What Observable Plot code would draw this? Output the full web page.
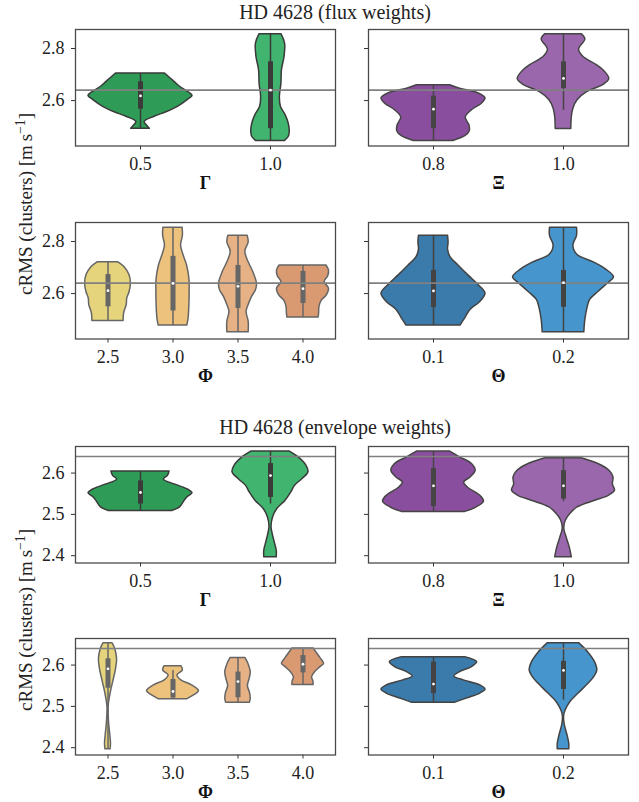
<!DOCTYPE html>
<html><head><meta charset="utf-8">
<script src="https://cdn.jsdelivr.net/npm/d3@7"></script>
<script src="https://cdn.jsdelivr.net/npm/@observablehq/plot@0.6"></script>
<style>
body{margin:0;background:#fff;}
#fig{position:relative;width:639px;height:802px;font-family:"Liberation Serif",serif;color:#222;overflow:hidden;}
.abs{position:absolute;white-space:nowrap;}
.abs svg{overflow:visible;}
</style></head><body><div id="fig"></div>
<script>
const FONT = '"Liberation Serif", serif';
const refLine = 2.64;

// ---------- categories ----------
const gammaCats = ["0.5", "1.0"];
const xiCats = ["0.8", "1.0"];
const phiCats = ["2.5", "3.0", "3.5", "4.0"];
const thetaCats = ["0.1", "0.2"];

// ---------- colours ----------
const gammaColors = ["#2e9c57", "#41b56f"];
const xiColors = ["#8a4e9e", "#9a66ac"];
const phiColors = ["#e5d47c", "#ecc27d", "#e6b184", "#d99a72"];
const thetaColors = ["#3a7bab", "#4696cd"];

// ---------- y ticks ----------
const fluxTicks = [2.6, 2.8];
const envTicks = [2.4, 2.5, 2.6];
const fluxDomain = [2.4255, 2.873];
const envDomain = [2.3823, 2.6643];

// ---------- violin profiles: [value, relative half-width] ----------
// flux weights
const fluxGamma05 = [[2.704,0.47],[2.685,0.58],[2.665,0.69],[2.653,0.76],[2.627,0.96],[2.618,1.0],[2.601,0.90],[2.576,0.72],[2.556,0.51],[2.537,0.26],[2.518,0.08],[2.505,0.12],[2.492,0.18]];
const fluxGamma10 = [[2.855,0.21],[2.819,0.28],[2.768,0.27],[2.717,0.22],[2.665,0.21],[2.614,0.18],[2.576,0.20],[2.544,0.29],[2.512,0.35],[2.479,0.37],[2.460,0.35],[2.445,0.28]];
const fluxXi08 = [[2.659,0.32],[2.646,0.51],[2.627,0.87],[2.608,1.0],[2.588,0.93],[2.563,0.74],[2.535,0.62],[2.505,0.69],[2.483,0.70],[2.463,0.61],[2.445,0.38]];
const fluxXi10 = [[2.855,0.35],[2.835,0.42],[2.796,0.30],[2.768,0.38],[2.736,0.64],[2.710,0.80],[2.682,0.88],[2.659,0.76],[2.633,0.46],[2.601,0.27],[2.569,0.19],[2.537,0.16],[2.491,0.15]];
const fluxPhi25 = [[2.720,0.40],[2.701,0.64],[2.670,0.83],[2.638,0.88],[2.606,0.83],[2.581,0.74],[2.556,0.72],[2.524,0.62],[2.495,0.60]];
const fluxPhi30 = [[2.853,0.37],[2.822,0.38],[2.784,0.31],[2.746,0.41],[2.708,0.54],[2.657,0.63],[2.606,0.64],[2.556,0.63],[2.505,0.60],[2.477,0.55]];
const fluxPhi35 = [[2.822,0.37],[2.796,0.41],[2.761,0.28],[2.720,0.41],[2.682,0.59],[2.638,0.73],[2.613,0.69],[2.587,0.54],[2.556,0.41],[2.530,0.33],[2.492,0.41],[2.451,0.41]];
const fluxPhi40 = [[2.708,0.90],[2.689,1.0],[2.667,0.97],[2.644,0.83],[2.619,1.0],[2.594,0.92],[2.571,0.71],[2.546,0.63],[2.524,0.62],[2.508,0.60]];
const fluxTheta01 = [[2.822,0.28],[2.796,0.29],[2.768,0.28],[2.739,0.33],[2.708,0.48],[2.670,0.67],[2.632,0.87],[2.600,1.0],[2.568,0.90],[2.537,0.71],[2.505,0.61],[2.477,0.52]];
const fluxTheta02 = [[2.853,0.26],[2.822,0.26],[2.784,0.19],[2.748,0.27],[2.720,0.58],[2.692,0.82],[2.663,0.97],[2.638,0.85],[2.606,0.67],[2.575,0.51],[2.543,0.46],[2.499,0.42],[2.451,0.40]];
// envelope weights
const envGamma05 = [[2.604,0.56],[2.594,0.53],[2.584,0.45],[2.572,0.67],[2.559,0.93],[2.551,1.0],[2.541,0.90],[2.529,0.83],[2.517,0.76],[2.508,0.61]];
const envGamma10 = [[2.652,0.37],[2.638,0.54],[2.618,0.69],[2.602,0.73],[2.585,0.61],[2.569,0.47],[2.553,0.40],[2.533,0.29],[2.513,0.13],[2.493,0.05],[2.469,0.02],[2.448,0.05],[2.428,0.09],[2.412,0.12],[2.396,0.12]];
const envXi08 = [[2.652,0.32],[2.638,0.51],[2.622,0.74],[2.606,0.81],[2.590,0.72],[2.577,0.59],[2.564,0.67],[2.545,0.90],[2.531,0.97],[2.517,0.83],[2.506,0.61]];
const envXi10 = [[2.636,0.35],[2.622,0.67],[2.606,0.88],[2.590,0.96],[2.572,0.95],[2.557,0.99],[2.545,0.87],[2.533,0.61],[2.517,0.27],[2.501,0.13],[2.485,0.045],[2.465,0.015],[2.444,0.06],[2.420,0.12],[2.396,0.16]];
const envPhi25 = [[2.653,0.17],[2.640,0.27],[2.615,0.35],[2.591,0.31],[2.567,0.23],[2.543,0.14],[2.519,0.065],[2.498,0.02],[2.478,0.026],[2.454,0.05],[2.430,0.09],[2.410,0.115],[2.396,0.10]];
const envPhi30 = [[2.597,0.33],[2.587,0.38],[2.575,0.17],[2.563,0.32],[2.551,0.73],[2.537,1.0],[2.527,0.82],[2.517,0.54]];
const envPhi35 = [[2.617,0.29],[2.603,0.40],[2.583,0.49],[2.567,0.45],[2.549,0.38],[2.533,0.46],[2.519,0.49],[2.509,0.46]];
const envPhi40 = [[2.640,0.41],[2.623,0.60],[2.611,0.74],[2.603,0.81],[2.595,0.67],[2.583,0.47],[2.571,0.35],[2.560,0.40],[2.552,0.41]];
const envTheta01 = [[2.619,0.61],[2.607,0.84],[2.595,0.74],[2.583,0.51],[2.572,0.40],[2.563,0.58],[2.551,0.90],[2.541,1.0],[2.531,0.90],[2.519,0.64],[2.509,0.42]];
const envTheta02 = [[2.653,0.30],[2.630,0.48],[2.606,0.61],[2.587,0.65],[2.569,0.58],[2.551,0.45],[2.531,0.29],[2.510,0.13],[2.490,0.04],[2.474,0.01],[2.454,0.026],[2.430,0.077],[2.410,0.11],[2.396,0.11]];

// ---------- inner boxes: [whiskerLow, q1, median, q3, whiskerHigh] ----------
const fluxGammaBoxes = [[2.492,2.567,2.618,2.672,2.704],[2.445,2.492,2.640,2.749,2.855]];
const fluxXiBoxes = [[2.445,2.492,2.567,2.617,2.659],[2.563,2.646,2.685,2.749,2.855]];
const fluxPhiBoxes = [[2.495,2.549,2.611,2.673,2.720],[2.477,2.533,2.639,2.743,2.853],[2.451,2.543,2.628,2.708,2.822],[2.508,2.562,2.619,2.685,2.708]];
const fluxThetaBoxes = [[2.477,2.546,2.610,2.689,2.822],[2.451,2.547,2.642,2.689,2.853]];
const envGammaBoxes = [[2.508,2.525,2.553,2.581,2.604],[2.525,2.541,2.594,2.623,2.652]];
const envXiBoxes = [[2.506,2.519,2.569,2.611,2.652],[2.531,2.537,2.569,2.606,2.636]];
const envPhiBoxes = [[2.396,2.544,2.591,2.615,2.653],[2.517,2.520,2.536,2.565,2.587],[2.509,2.521,2.560,2.583,2.617],[2.552,2.581,2.602,2.623,2.640]];
const envThetaBoxes = [[2.509,2.531,2.554,2.607,2.619],[2.515,2.541,2.587,2.609,2.653]];

const titles = ["HD 4628 (flux weights)", "HD 4628 (envelope weights)"];
const yLabelHTML = 'cRMS (clusters) [m&#8201;s<sup style="font-size:0.72em;vertical-align:0.5em;line-height:0">\u22121</sup>]';

// ---------- layout ----------
const fig = document.getElementById("fig");
const FRAME_H = 116.5, MT = 10, MB = 55;
const rowsTop = [29.3, 221.7, 445.7, 637.7];

const panels = [
  {row:0, side:"L", cats:gammaCats, colors:gammaColors, edge:"#3a3a3a", profiles:[fluxGamma05, fluxGamma10], boxes:fluxGammaBoxes, label:"\u0393", ticks:fluxTicks, domain:fluxDomain},
  {row:0, side:"R", cats:xiCats, colors:xiColors, edge:"#454545", profiles:[fluxXi08, fluxXi10], boxes:fluxXiBoxes, label:"\u039E", ticks:fluxTicks, domain:fluxDomain},
  {row:1, side:"L", cats:phiCats, colors:phiColors, edge:"#666666", profiles:[fluxPhi25, fluxPhi30, fluxPhi35, fluxPhi40], boxes:fluxPhiBoxes, label:"\u03A6", ticks:fluxTicks, domain:fluxDomain},
  {row:1, side:"R", cats:thetaCats, colors:thetaColors, edge:"#434343", profiles:[fluxTheta01, fluxTheta02], boxes:fluxThetaBoxes, label:"\u0398", ticks:fluxTicks, domain:fluxDomain},
  {row:2, side:"L", cats:gammaCats, colors:gammaColors, edge:"#3a3a3a", profiles:[envGamma05, envGamma10], boxes:envGammaBoxes, label:"\u0393", ticks:envTicks, domain:envDomain},
  {row:2, side:"R", cats:xiCats, colors:xiColors, edge:"#454545", profiles:[envXi08, envXi10], boxes:envXiBoxes, label:"\u039E", ticks:envTicks, domain:envDomain},
  {row:3, side:"L", cats:phiCats, colors:phiColors, edge:"#666666", profiles:[envPhi25, envPhi30, envPhi35, envPhi40], boxes:envPhiBoxes, label:"\u03A6", ticks:envTicks, domain:envDomain},
  {row:3, side:"R", cats:thetaCats, colors:thetaColors, edge:"#434343", profiles:[envTheta01, envTheta02], boxes:envThetaBoxes, label:"\u0398", ticks:envTicks, domain:envDomain},
];

function makePanel(cfg) {
  const n = cfg.cats.length;
  const left = cfg.side === "L";
  const marks = [];
  cfg.profiles.forEach((prof, i) => {
    const rows = prof.map(([v, w]) => ({i, v, w}));
    marks.push(Plot.areaX(rows, {
      y: "v", x1: d => d.i - 0.4 * d.w, x2: d => d.i + 0.4 * d.w,
      fill: cfg.colors[i], stroke: cfg.edge, strokeWidth: 1.5, curve: "catmull-rom"
    }));
  });
  const boxes = cfg.boxes.map(([lo, q1, med, q3, hi], i) => ({i, lo, q1, med, q3, hi}));
  marks.push(Plot.ruleX(boxes, {x: "i", y1: "lo", y2: "hi", stroke: cfg.edge, strokeWidth: 1.5}));
  marks.push(Plot.ruleX(boxes, {x: "i", y1: "q1", y2: "q3", stroke: cfg.edge, strokeWidth: 5}));
  marks.push(Plot.ruleY([refLine], {stroke: "#808080", strokeWidth: 1.6}));
  marks.push(Plot.dot(boxes, {x: "i", y: "med", r: 1.4, fill: "white", stroke: "none"}));
  marks.push(Plot.axisX({ticks: d3.range(n), tickFormat: i => cfg.cats[i], tickSize: 4, tickPadding: 7, label: null, stroke: "#333", fontSize: 18}));
  marks.push(Plot.axisY({ticks: cfg.ticks, tickSize: 4, tickPadding: 7, label: null, stroke: "#333", fontSize: 18,
    tickFormat: left ? d3.format(".1f") : () => ""}));
  marks.push(Plot.frame({stroke: "#4a4a4a", strokeWidth: 1.3}));
  marks.push(Plot.text([cfg.label], {frameAnchor: "bottom", dy: 42.5, text: d => d, fontWeight: "bold", fontSize: 18, fill: "#111"}));

  const width = left ? 340 : 299;
  const plot = Plot.plot({
    width, height: MT + FRAME_H + MB,
    marginTop: MT, marginBottom: MB,
    marginLeft: left ? 75 : 28, marginRight: left ? 5 : 11,
    x: {domain: [-0.5, n - 0.5], axis: null},
    y: {domain: cfg.domain, axis: null},
    style: {fontFamily: FONT, fontSize: "18px", color: "#222", background: "transparent"},
    marks
  });
  const div = document.createElement("div");
  div.className = "abs";
  div.style.left = (left ? 0 : 340) + "px";
  div.style.top = (rowsTop[cfg.row] - MT) + "px";
  div.appendChild(plot);
  fig.appendChild(div);
}
panels.forEach(makePanel);

// titles
const TITLE_FS = 20;
[[titles[0], 18.3], [titles[1], 433.3]].forEach(([t, base]) => {
  const d = document.createElement("div");
  d.className = "abs";
  d.textContent = t;
  d.style.fontSize = TITLE_FS + "px";
  d.style.lineHeight = "1";
  d.style.left = "335px";
  d.style.top = (base - 0.8375 * TITLE_FS) + "px";
  d.style.transform = "translateX(-50%)";
  fig.appendChild(d);
});

// y labels
[204, 620].forEach(cy => {
  const d = document.createElement("div");
  d.className = "abs";
  d.innerHTML = yLabelHTML;
  d.style.fontSize = "19px";
  d.style.lineHeight = "1";
  d.style.left = "25px";
  d.style.top = cy + "px";
  d.style.transform = "translate(-50%,-50%) rotate(-90deg)";
  fig.appendChild(d);
});
</script></body></html>
